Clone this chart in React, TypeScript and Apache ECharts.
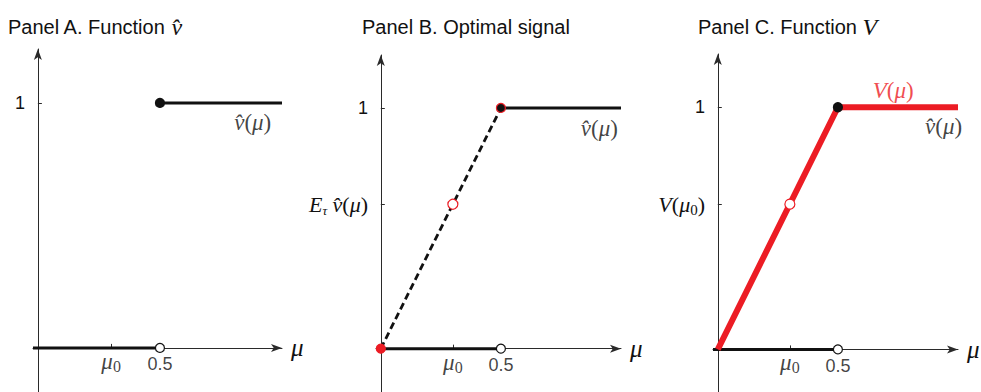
import React, { useEffect, useRef } from 'react';
import * as echarts from 'echarts';

// ---- data ----
const MU0 = 0.3;
const CUTOFF = 0.5;
const X_MIN = -0.02;
const X_MAX = 1;
const Y_MIN = -0.18;
const Y_MAX = 1.22;

const xTickValues = [MU0, CUTOFF];
const xTickLabels = ['{i|μ}{s|0}', '{n|0.5}'];
const yTicksA = [1];
const yTicksB = [0.6, 1];
const yTicksC = [0.6, 1];

const vHatHighA = [[0.5, 1], [1, 1]];
const vHatLowA = [[-0.02, 0], [0.5, 0]];
const vHatHighB = [[0.5, 1], [1, 1]];
const vHatLowB = [[0, 0], [0.5, 0]];
const signalLineB = [[0, 0], [0.5, 1]];
const vLineC = [[0, 0], [0.5, 1], [1, 1]];
const vHatLowC = [[-0.02, 0], [0.5, 0]];

const closedTop = [0.5, 1];
const openBottom = [0.5, 0];
const meanPoint = [0.3, 0.6];
const originPoint = [0, 0];

const vHatLabelA = [0.88, 0.92];
const vHatLabelB = [0.91, 0.915];
const vHatLabelC = [0.94, 0.92];
const vLabelC = [0.73, 1.07];

// ---- styles ----
const RED = '#ec1c24';
const BLACK = '#111111';
const AXIS = '#2a2a2a';
const SANS = 'Liberation Sans, Arial, sans-serif';
const SERIF = 'Liberation Serif, Times New Roman, serif';

const richMath = (color: string, size = 22) => ({
  i: { fontFamily: SERIF, fontStyle: 'italic', fontSize: size, color, lineHeight: 26 },
  r: { fontFamily: SERIF, fontSize: size, color, lineHeight: 26 },
  s: { fontFamily: SERIF, fontSize: Math.round(size * 0.68), color, verticalAlign: 'bottom', lineHeight: 17 },
  t: { fontFamily: SERIF, fontStyle: 'italic', fontSize: Math.round(size * 0.6), color, verticalAlign: 'bottom', lineHeight: 17 },
  n: { fontFamily: SANS, fontSize: 18, color, lineHeight: 20 },
});

const VHAT = 'v\u0302';

function xAxisFor(gridIndex: number) {
  return {
    type: 'value',
    gridIndex,
    min: X_MIN,
    max: X_MAX,
    name: 'μ',
    nameLocation: 'end',
    nameGap: 9,
    nameTextStyle: { fontFamily: SERIF, fontStyle: 'italic', fontSize: 25, color: BLACK, padding: [0, 0, 6, 0] },
    axisLine: {
      onZero: true,
      symbol: ['none', 'arrow'],
      symbolSize: [6, 11],
      lineStyle: { color: AXIS, width: 1 },
    },
    axisTick: { show: true, inside: true, length: 4, customValues: xTickValues, lineStyle: { color: AXIS } },
    axisLabel: { show: false },
    splitLine: { show: false },
  };
}

function yAxisFor(gridIndex: number, ticks: number[], fmt: (v: number) => string) {
  return {
    type: 'value',
    gridIndex,
    min: Y_MIN,
    max: Y_MAX,
    axisLine: {
      onZero: true,
      symbol: ['none', 'arrow'],
      symbolSize: [6, 11],
      lineStyle: { color: AXIS, width: 1 },
    },
    axisTick: { show: true, inside: true, length: 4, customValues: ticks, lineStyle: { color: AXIS } },
    axisLabel: { customValues: ticks, margin: 8, formatter: fmt, rich: richMath(BLACK, 22) },
    splitLine: { show: false },
  };
}

const line = (idx: number, data: number[][], color: string, width: number, type: any = 'solid', z = 2) => ({
  type: 'line',
  xAxisIndex: idx,
  yAxisIndex: idx,
  data,
  showSymbol: false,
  symbol: 'none',
  lineStyle: { color, width, type, cap: 'butt' },
  z,
  silent: true,
});

const dot = (idx: number, p: number[], fill: string, border: string, size = 9, bw = 1.2) => ({
  type: 'scatter',
  xAxisIndex: idx,
  yAxisIndex: idx,
  data: [p],
  symbol: 'circle',
  symbolSize: size,
  itemStyle: { color: fill, borderColor: border, borderWidth: bw, opacity: 1 },
  z: 5,
  silent: true,
});

const textAt = (idx: number, p: number[], text: string, color: string, position: any = 'inside', distance = 0) => ({
  type: 'scatter',
  xAxisIndex: idx,
  yAxisIndex: idx,
  data: [p],
  symbol: 'circle',
  symbolSize: 1,
  itemStyle: { color: 'transparent' },
  label: { show: true, position, distance, formatter: text, rich: richMath(color, 23) },
  z: 6,
  silent: true,
});

// x tick labels drawn at the tick positions on the (zero) x axis
const xTickLabelSeries = (idx: number) =>
  xTickValues.map((v, k) => textAt(idx, [v, 0], xTickLabels[k], BLACK, 'bottom', k === 0 ? 0 : 6));

const vHatText = `{i|${VHAT}}{r|(}{i|μ}{r|)}`;

export default function App() {
  const ref = useRef<HTMLDivElement>(null);
  useEffect(() => {
    if (!ref.current) return;
    const chart = echarts.init(ref.current, undefined, { renderer: 'svg' });
    const titleRich = {
      a: { fontFamily: SANS, fontSize: 20, fontWeight: 'normal', color: BLACK, lineHeight: 24 },
      v: { fontFamily: SERIF, fontStyle: 'italic', fontWeight: 'normal', fontSize: 24, color: BLACK, lineHeight: 24 },
    };
    const gridBase = { outerBoundsMode: 'none', containLabel: false };
    chart.setOption({
      animation: false,
      backgroundColor: '#ffffff',
      title: [
        { text: `{a|Panel A. Function }{v|${VHAT}}`, left: 3, top: 10, textStyle: { fontWeight: 'normal', rich: titleRich } },
        { text: '{a|Panel B. Optimal signal}', left: 357, top: 10, textStyle: { fontWeight: 'normal', rich: titleRich } },
        { text: '{a|Panel C. Function }{v|V}', left: 693, top: 10, textStyle: { fontWeight: 'normal', rich: titleRich } },
      ],
      grid: [
        { ...gridBase, left: 33, top: 49, width: 249, height: 343 },
        { ...gridBase, left: 376, top: 55, width: 245, height: 337 },
        { ...gridBase, left: 713, top: 54, width: 245, height: 339 },
      ],
      xAxis: [xAxisFor(0), xAxisFor(1), xAxisFor(2)],
      yAxis: [
        yAxisFor(0, yTicksA, () => '{n|1}'),
        yAxisFor(1, yTicksB, (v: number) =>
          v === 1 ? '{n|1}' : `{i|E}{t|τ}{i| ${VHAT}}{r|(}{i|μ}{r|)}`),
        yAxisFor(2, yTicksC, (v: number) =>
          v === 1 ? '{n|1}' : '{i|V}{r|(}{i|μ}{s|0}{r|)}'),
      ],
      series: [
        // Panel A
        line(0, vHatLowA, BLACK, 3),
        line(0, vHatHighA, BLACK, 3),
        dot(0, closedTop, BLACK, BLACK, 9),
        dot(0, openBottom, '#ffffff', BLACK, 9),
        textAt(0, vHatLabelA, vHatText, BLACK),
        ...xTickLabelSeries(0),
        // Panel B
        line(1, vHatLowB, BLACK, 3),
        line(1, vHatHighB, BLACK, 3),
        line(1, signalLineB, BLACK, 2.8, [7, 4]),
        dot(1, closedTop, BLACK, RED, 9, 1.2),
        dot(1, meanPoint, '#ffffff', RED, 10, 1.2),
        dot(1, originPoint, RED, RED, 9),
        dot(1, openBottom, '#ffffff', BLACK, 9),
        textAt(1, vHatLabelB, vHatText, BLACK),
        ...xTickLabelSeries(1),
        // Panel C
        line(2, vHatLowC, BLACK, 3),
        line(2, vLineC, RED, 6, 'solid', 3),
        dot(2, closedTop, BLACK, BLACK, 9),
        dot(2, meanPoint, '#ffffff', RED, 10, 1.2),
        dot(2, openBottom, '#ffffff', BLACK, 9),
        textAt(2, vHatLabelC, vHatText, BLACK),
        textAt(2, vLabelC, '{i|V}{r|(}{i|μ}{r|)}', RED),
        ...xTickLabelSeries(2),
      ],
    });
    return () => chart.dispose();
  }, []);
  return (
    <div
      ref={ref}
      style={{ position: 'fixed', left: 0, top: 0, width: 981, height: 392, background: '#fff' }}
    />
  );
}
